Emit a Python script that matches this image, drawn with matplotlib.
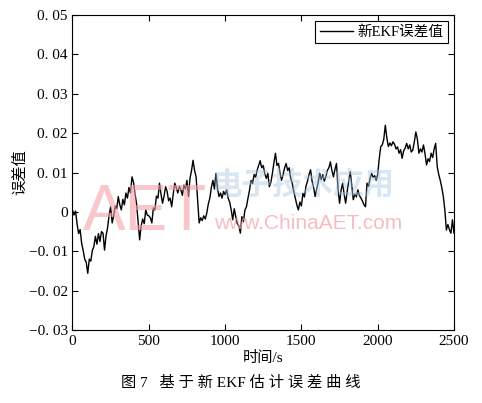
import numpy as np
import matplotlib
matplotlib.use('Agg')
import matplotlib.pyplot as plt

plt.rcParams['font.family'] = ['Liberation Serif', 'Noto Sans CJK SC', 'DejaVu Sans']

# время, с (шаг 10 с)
t = np.arange(0, 2501, 10)
# ошибка
err = [
    0.0005, -0.0008, 0.0002, -0.003, -0.0055, -0.0045, -0.008, -0.0098, -0.012, -0.0128,
    -0.0156, -0.012, -0.0125, -0.0098, -0.0088, -0.0062, -0.0082, -0.0055, -0.0075, -0.005,
    -0.0054, -0.0097, -0.006, -0.004, -0.0008, 0.0013, -0.0028, -0.001, 0.0015, 0.0008,
    0.0039, 0.0018, 0.0005, 0.0032, 0.0018, 0.0048, 0.0035, 0.0062, 0.0048, 0.0089,
    0.0075, 0.0045, 0.002, -0.0025, -0.0071, -0.0035, -0.0018, -0.003, 0.0005, -0.0008,
    -0.001, -0.0015, -0.0028, 0.001, 0.0005, 0.004, 0.0035, 0.0073, 0.0045, 0.0022,
    0.004, 0.0064, 0.0052, 0.0028, 0.0035, 0.0013, 0.0045, 0.0073, 0.0062, 0.0048,
    0.0065, 0.0056, 0.0042, 0.0068, 0.0058, 0.008, 0.0039, 0.0085, 0.0105, 0.0131,
    0.0105, 0.0089, 0.003, -0.0028, -0.0015, -0.0022, -0.001, -0.0018, -0.0003, 0.002,
    0.0035, 0.0062, 0.008, 0.0058, 0.0098, 0.006, 0.0039, 0.0048, 0.0035, 0.0052,
    0.0044, 0.0056, 0.0035, 0.0025, 0.0005, -0.002, 0.0008, -0.0012, -0.003, -0.0035,
    -0.0054, -0.0012, -0.0025, 0.0005, 0.0013, 0.0035, 0.0055, 0.008, 0.0072, 0.0095,
    0.0088, 0.0106, 0.0118, 0.013, 0.0112, 0.0118, 0.0097, 0.0085, 0.0098, 0.0064,
    0.0075, 0.0098, 0.0125, 0.0149, 0.0118, 0.0123, 0.0098, 0.008, 0.0095, 0.0112,
    0.0123, 0.0105, 0.0112, 0.0085, 0.0073, 0.0052, 0.0035, 0.0018, 0.0005, 0.0025,
    0.0015, 0.0047, 0.0038, 0.0065, 0.0078, 0.0095, 0.0107, 0.0078, 0.0062, 0.0039,
    0.0058, 0.0075, 0.0098, 0.0082, 0.0095, 0.0078, 0.0089, 0.0105, 0.0112, 0.0127,
    0.0105, 0.0089, 0.0108, 0.0123, 0.006, 0.0022, 0.0055, 0.0073, 0.0045, 0.0022,
    0.0052, 0.0078, 0.0102, 0.0068, 0.0031, 0.0045, 0.0038, 0.0056, 0.0042, 0.0035,
    0.0028, 0.0018, 0.0013, 0.0073, 0.0065, 0.0085, 0.0098, 0.0088, 0.0092, 0.008,
    0.0095, 0.0135, 0.0166, 0.017, 0.0185, 0.022, 0.0188, 0.0166, 0.0175, 0.0168,
    0.0178, 0.0172, 0.016, 0.0165, 0.0149, 0.0158, 0.0136, 0.0155, 0.0162, 0.0174,
    0.016, 0.017, 0.0152, 0.0157, 0.0178, 0.0203, 0.0185, 0.0149, 0.016, 0.0152,
    0.017, 0.0148, 0.0119, 0.0135, 0.0128, 0.0149, 0.0138, 0.016, 0.0174, 0.0115,
    0.0095, 0.008, 0.0062, 0.0039, 0.0005, -0.0046, -0.0032, -0.0045, -0.0054, -0.002,
    -0.0054,
]

xticks = [0, 500, 1000, 1500, 2000, 2500]
yticks = [-0.03, -0.02, -0.01, 0, 0.01, 0.02, 0.03, 0.04, 0.05]
ylabels = ['\u22120. 03', '\u22120. 02', '\u22120. 01', '0', '0. 01', '0. 02', '0. 03', '0. 04', '0. 05']

fig = plt.figure(figsize=(4.82, 4.03), dpi=100)
ax = fig.add_axes([0.1504, 0.181, 0.7915, 0.7818])

ax.plot(t, err, color='black', lw=1.0, label='新EKF误差值', zorder=3)

ax.set_xlim(0, 2500)
ax.set_ylim(-0.03, 0.05)
ax.set_xticks(xticks)
ax.set_yticks(yticks)
ax.set_yticklabels(ylabels)
ax.tick_params(direction='in', top=True, right=True, length=4, labelsize=11, width=0.8)
for s in ax.spines.values():
    s.set_linewidth(0.8)

ax.set_xlabel('时间/s', fontsize=11, labelpad=2)
ax.set_ylabel('误差值', fontsize=11, labelpad=1)

leg = ax.legend(loc='upper right', fontsize=10.5, fancybox=False, edgecolor='black',
                framealpha=1, borderaxespad=0.4, handlelength=2.3, handletextpad=0.3,
                borderpad=0.3)
leg.get_frame().set_linewidth(0.8)

# водяной знак
fig.text(0.172, 0.43, 'AET', fontsize=46, color='#f5a0a8', alpha=0.6,
         family='Liberation Sans')
fig.text(0.44, 0.52, '电子技术应用', fontsize=22, color='#a9c8e2', alpha=0.45,
         family='Noto Sans CJK SC', fontweight='bold')
fig.text(0.445, 0.432, 'www.ChinaAET.com', fontsize=15, color='#f5a0a8', alpha=0.7,
         family='Liberation Sans')

fig.text(0.5, 0.04, '图 7   基 于 新 EKF 估 计 误 差 曲 线', ha='center', fontsize=11)

fig.savefig('out.png', dpi=100)
